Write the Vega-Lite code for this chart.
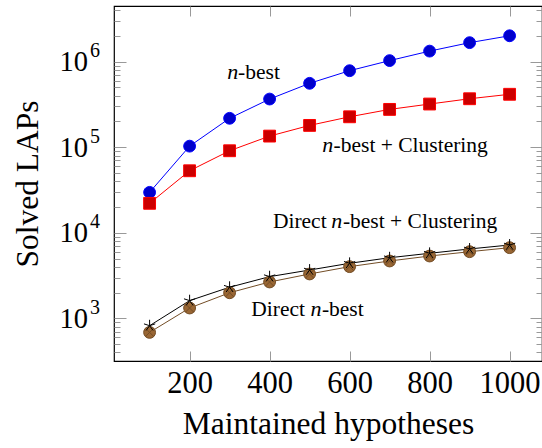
{
  "$schema": "https://vega.github.io/schema/vega-lite/v6.json",
  "width": 428,
  "height": 355,
  "autosize": {"type": "none"},
  "padding": {"left": 114, "top": 6, "right": 0, "bottom": 87},
  "background": "white",
  "config": {
    "view": {"stroke": "black", "strokeWidth": 1.2},
    "font": "Liberation Serif",
    "axis": {"domain": false, "grid": false, "tickColor": "#999999", "tickWidth": 1, "labelFont": "Liberation Serif", "titleFont": "Liberation Serif", "labelColor": "black", "titleColor": "black", "titleFontWeight": "normal", "labelFlush": false, "labelOverlap": false}
  },
  "datasets": {
    "series": [
      {"series": "n-best", "x": 100, "y": 29700},
      {"series": "n-best", "x": 200, "y": 103000},
      {"series": "n-best", "x": 300, "y": 218000},
      {"series": "n-best", "x": 400, "y": 366000},
      {"series": "n-best", "x": 500, "y": 559000},
      {"series": "n-best", "x": 600, "y": 785000},
      {"series": "n-best", "x": 700, "y": 1030000},
      {"series": "n-best", "x": 800, "y": 1330000},
      {"series": "n-best", "x": 900, "y": 1670000},
      {"series": "n-best", "x": 1000, "y": 2010000},
      {"series": "n-best + Clustering", "x": 100, "y": 22100},
      {"series": "n-best + Clustering", "x": 200, "y": 53100},
      {"series": "n-best + Clustering", "x": 300, "y": 91000},
      {"series": "n-best + Clustering", "x": 400, "y": 135000},
      {"series": "n-best + Clustering", "x": 500, "y": 180000},
      {"series": "n-best + Clustering", "x": 600, "y": 227000},
      {"series": "n-best + Clustering", "x": 700, "y": 277000},
      {"series": "n-best + Clustering", "x": 800, "y": 320000},
      {"series": "n-best + Clustering", "x": 900, "y": 369000},
      {"series": "n-best + Clustering", "x": 1000, "y": 416000},
      {"series": "Direct n-best", "x": 100, "y": 685},
      {"series": "Direct n-best", "x": 200, "y": 1320},
      {"series": "Direct n-best", "x": 300, "y": 1990},
      {"series": "Direct n-best", "x": 400, "y": 2660},
      {"series": "Direct n-best", "x": 500, "y": 3300},
      {"series": "Direct n-best", "x": 600, "y": 4020},
      {"series": "Direct n-best", "x": 700, "y": 4680},
      {"series": "Direct n-best", "x": 800, "y": 5350},
      {"series": "Direct n-best", "x": 900, "y": 6010},
      {"series": "Direct n-best", "x": 1000, "y": 6700},
      {"series": "Direct n-best + Clustering", "x": 100, "y": 820},
      {"series": "Direct n-best + Clustering", "x": 200, "y": 1610},
      {"series": "Direct n-best + Clustering", "x": 300, "y": 2310},
      {"series": "Direct n-best + Clustering", "x": 400, "y": 3070},
      {"series": "Direct n-best + Clustering", "x": 500, "y": 3670},
      {"series": "Direct n-best + Clustering", "x": 600, "y": 4400},
      {"series": "Direct n-best + Clustering", "x": 700, "y": 5110},
      {"series": "Direct n-best + Clustering", "x": 800, "y": 5760},
      {"series": "Direct n-best + Clustering", "x": 900, "y": 6470},
      {"series": "Direct n-best + Clustering", "x": 1000, "y": 7200}
    ],
    "labels": [
      {"text": "n", "x": 294.25, "y": 628000, "italic": true},
      {"text": "-best", "x": 321.25, "y": 628000, "italic": false},
      {"text": "n", "x": 531.75, "y": 88700, "italic": true},
      {"text": "-best + Clustering", "x": 560, "y": 88700, "italic": false},
      {"text": "Direct", "x": 408.25, "y": 11270, "italic": false},
      {"text": "n", "x": 554.25, "y": 11270, "italic": true},
      {"text": "-best + Clustering", "x": 583.25, "y": 11270, "italic": false},
      {"text": "Direct", "x": 354.25, "y": 1064, "italic": false},
      {"text": "n", "x": 502, "y": 1064, "italic": true},
      {"text": "-best", "x": 530.75, "y": 1064, "italic": false}
    ]
  },
  "layer": [
    {
      "data": {"name": "series"},
      "mark": {"type": "line", "strokeWidth": 1},
      "encoding": {
        "x": {"field": "x", "type": "quantitative", "scale": {"domain": [11, 1081], "nice": false, "zero": false},
          "axis": {"orient": "bottom", "values": [200, 400, 600, 800, 1000], "format": "d", "tickSize": -10, "labelPadding": 17, "labelFontSize": 30.5, "title": "Maintained hypotheses", "titleFontSize": 31.5, "titlePadding": 10}},
        "y": {"field": "y", "type": "quantitative", "scale": {"type": "log", "domain": [317, 4480000], "nice": false},
          "axis": {"orient": "left", "values": [1000, 10000, 100000, 1000000], "tickSize": -12, "labelPadding": 38.6, "labelExpr": "'10'", "labelFontSize": 28.5, "labelBaseline": "middle", "title": "Solved LAPs", "titleFontSize": 31.5, "titlePadding": 14}},
        "color": {"field": "series", "type": "nominal", "legend": null,
          "scale": {"domain": ["n-best", "n-best + Clustering", "Direct n-best", "Direct n-best + Clustering"], "range": ["#0000FF", "#FF0000", "#734D26", "#000000"]}}
      }
    },
    {
      "data": {"name": "series"},
      "mark": {"type": "point", "filled": true, "size": 140, "strokeWidth": 1, "opacity": 1},
      "encoding": {
        "x": {"field": "x", "type": "quantitative",
          "axis": {"orient": "top", "values": [200, 400, 600, 800, 1000], "tickSize": -10, "labels": false, "title": null}},
        "y": {"field": "y", "type": "quantitative",
          "axis": {"orient": "left", "values": [400, 500, 600, 700, 800, 900, 2000, 3000, 4000, 5000, 6000, 7000, 8000, 9000, 20000, 30000, 40000, 50000, 60000, 70000, 80000, 90000, 200000, 300000, 400000, 500000, 600000, 700000, 800000, 900000, 2000000, 3000000, 4000000], "tickSize": -6, "labels": false, "title": null}},
        "shape": {"field": "series", "type": "nominal", "legend": null,
          "scale": {"domain": ["n-best", "n-best + Clustering", "Direct n-best", "Direct n-best + Clustering"], "range": ["circle", "square", "M-1,0A1,1,0,1,0,1,0A1,1,0,1,0,-1,0ZM-0.7071,-0.7071L0.7071,0.7071M-0.7071,0.7071L0.7071,-0.7071", "M0,0L0,-1M0,0L0.951,-0.309M0,0L0.588,0.809M0,0L-0.588,0.809M0,0L-0.951,-0.309"]}},
        "fill": {"field": "series", "type": "nominal", "legend": null,
          "scale": {"domain": ["n-best", "n-best + Clustering", "Direct n-best", "Direct n-best + Clustering"], "range": ["#0000CC", "#CC0000", "#996633", "#000000"]}},
        "stroke": {"field": "series", "type": "nominal", "legend": null,
          "scale": {"domain": ["n-best", "n-best + Clustering", "Direct n-best", "Direct n-best + Clustering"], "range": ["#0000FF", "#FF0000", "#734D26", "#000000"]}}
      }
    },
    {
      "data": {"name": "labels"},
      "transform": [{"filter": "!datum.italic"}],
      "mark": {"type": "text", "align": "left", "baseline": "alphabetic", "fontSize": 21.5, "font": "Liberation Serif", "color": "black"},
      "encoding": {
        "x": {"field": "x", "type": "quantitative", "axis": null},
        "y": {"field": "y", "type": "quantitative",
          "axis": {"orient": "right", "values": [1000, 10000, 100000, 1000000], "tickSize": -12, "labels": false, "title": null}},
        "text": {"field": "text"}
      }
    },
    {
      "data": {"name": "labels"},
      "transform": [{"filter": "datum.italic"}],
      "mark": {"type": "text", "align": "left", "baseline": "alphabetic", "fontSize": 22, "fontStyle": "italic", "font": "Liberation Serif", "color": "black"},
      "encoding": {
        "x": {"field": "x", "type": "quantitative", "axis": null},
        "y": {"field": "y", "type": "quantitative",
          "axis": {"orient": "right", "values": [400, 500, 600, 700, 800, 900, 2000, 3000, 4000, 5000, 6000, 7000, 8000, 9000, 20000, 30000, 40000, 50000, 60000, 70000, 80000, 90000, 200000, 300000, 400000, 500000, 600000, 700000, 800000, 900000, 2000000, 3000000, 4000000], "tickSize": -6, "labels": false, "title": null}},
        "text": {"field": "text"}
      }
    },
    {
      "data": {"name": "labels"},
      "mark": {"type": "point", "opacity": 0},
      "encoding": {
        "x": {"field": "x", "type": "quantitative", "axis": null},
        "y": {"field": "y", "type": "quantitative",
          "axis": {"orient": "left", "values": [1000, 10000, 100000, 1000000], "ticks": false, "labelPadding": 24.6, "labelAlign": "left", "labelBaseline": "middle", "labelOffset": -11, "labelFontSize": 20, "labelExpr": "format(log(datum.value)/LN10, '.0f')", "title": null}}
      }
    }
  ],
  "resolve": {"axis": {"x": "independent", "y": "independent"}}
}
